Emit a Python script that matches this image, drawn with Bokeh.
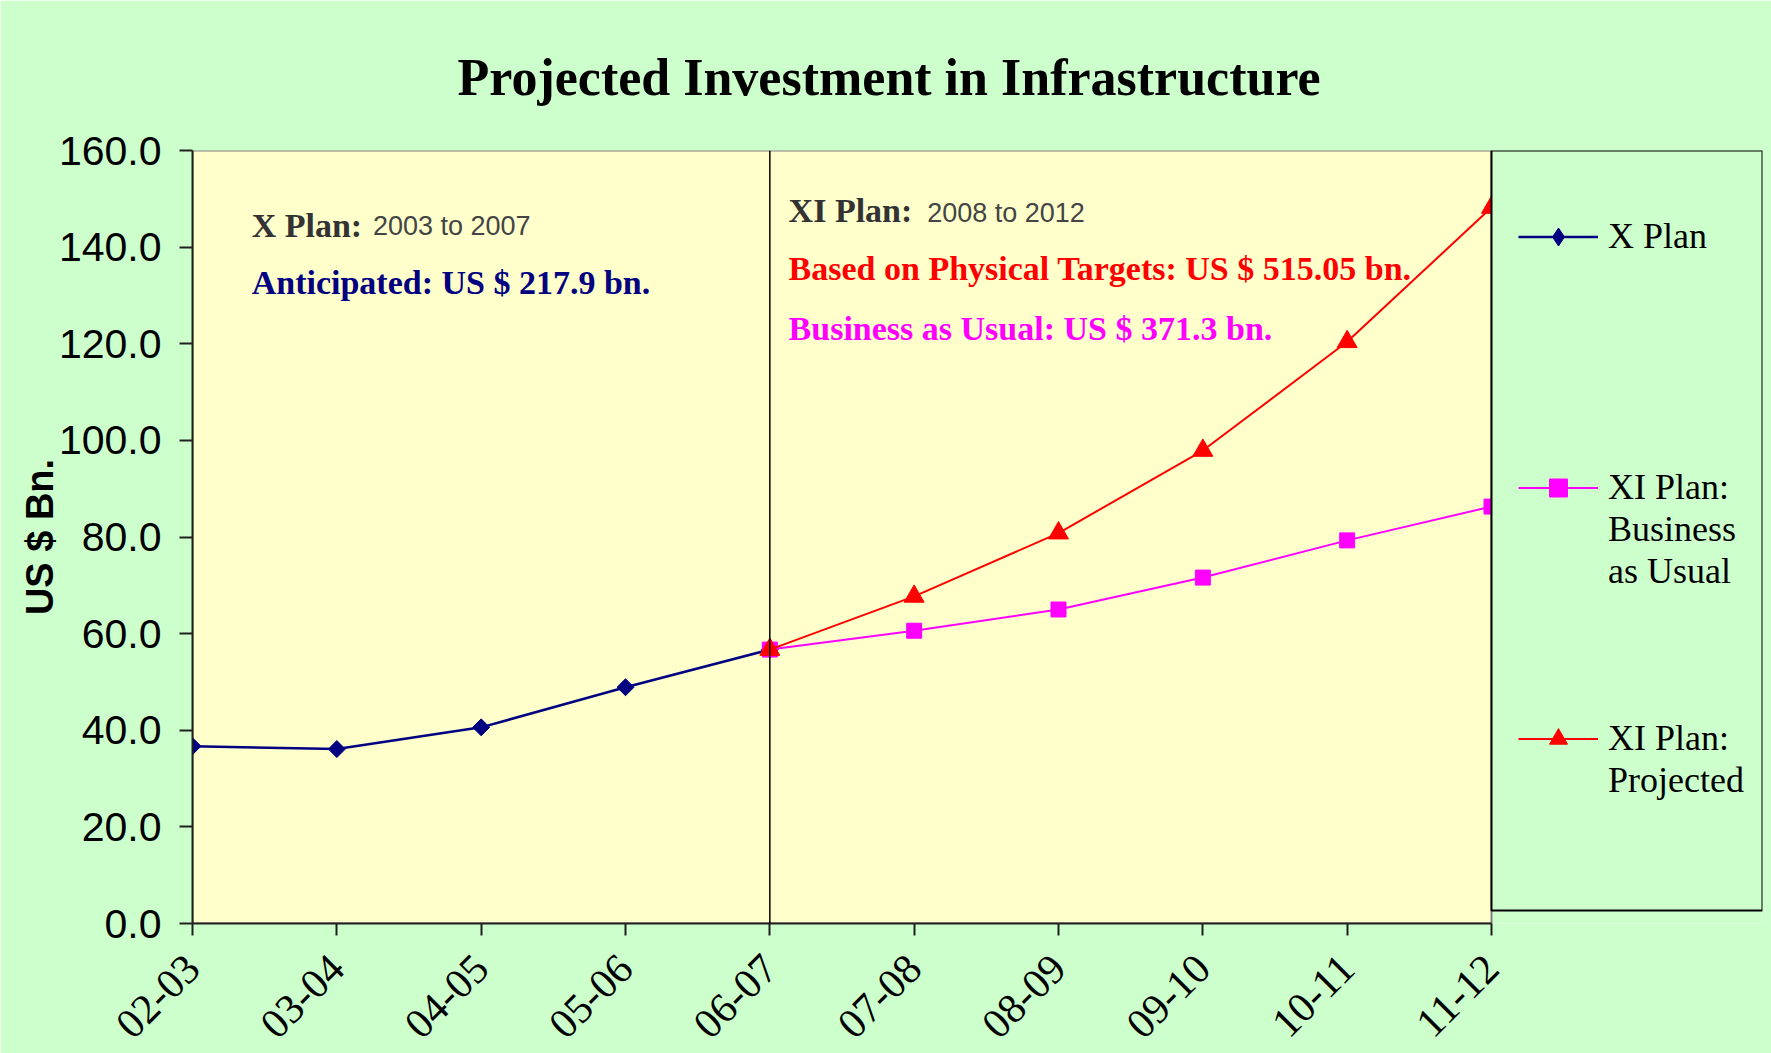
import math
from bokeh.plotting import figure
from bokeh.models import (Range1d, FixedTicker, Span, Label, Legend, LegendItem,
                          BoxAnnotation)
from bokeh.embed import file_html
from bokeh.resources import INLINE

# ---------------- data ----------------
categories = ["02-03", "03-04", "04-05", "05-06", "06-07",
              "07-08", "08-09", "09-10", "10-11", "11-12"]
x_plan_years = ["02-03", "03-04", "04-05", "05-06", "06-07"]
x_plan_values = [36.7, 36.1, 40.6, 48.9, 56.7]
xi_years = ["06-07", "07-08", "08-09", "09-10", "10-11", "11-12"]
xi_bau_values = [56.7, 60.6, 65.0, 71.6, 79.3, 86.3]
xi_projected_values = [56.7, 67.7, 80.8, 97.9, 120.4, 148.2]
y_ticks = [0, 20, 40, 60, 80, 100, 120, 140, 160]
plan_boundary = "06-07"

def pos(cats):
    return [categories.index(c) for c in cats]

SERIF = "Liberation Serif"
SANS = "Liberation Sans"
GREEN = "#CCFFCC"
YELLOW = "#FFFFCC"
navy, magenta, red = "#000080", "#FF00FF", "#FF0000"

# layout geometry (pixels)
W, H = 1771, 1053
LEFT, RIGHT, TOP, BOTTOM = 192, 9, 150, 130
PLOT_W = 1299                       # width of the plotting area
FRAME_W = W - LEFT - RIGHT          # plotting area + legend panel
n = len(categories)
x_end = (n - 1) * FRAME_W / PLOT_W  # extra room on the right holds the legend

p = figure(width=W, height=H,
           x_range=Range1d(0, x_end),
           y_range=Range1d(y_ticks[0], y_ticks[-1]),
           output_backend="svg", toolbar_location=None,
           min_border_left=LEFT, min_border_right=RIGHT,
           min_border_top=TOP, min_border_bottom=BOTTOM,
           background_fill_color=GREEN, border_fill_color=GREEN,
           outline_line_color=None)

# yellow plotting area
p.add_layout(BoxAnnotation(left=0, right=n - 1, bottom=y_ticks[0], top=y_ticks[-1],
                           fill_color=YELLOW, fill_alpha=1.0,
                           line_color="#808080", line_alpha=1.0, line_width=2,
                           level="underlay"))

# title
p.title.text = "Projected Investment in Infrastructure"
p.title.text_font = SERIF
p.title.text_font_style = "bold"
p.title.text_font_size = "52px"
p.title.text_color = "black"
p.title.align = "left"
p.title.offset = 265
p.title.standoff = 90

p.xgrid.visible = False
p.ygrid.visible = False

# x axis
xa = p.xaxis[0]
xa.bounds = (0, n - 1)
xa.ticker = FixedTicker(ticks=list(range(n)))
xa.major_label_overrides = {i: c for i, c in enumerate(categories)}
xa.major_label_orientation = math.pi / 4
xa.major_label_text_font = SERIF
xa.major_label_text_font_size = "42px"
xa.major_label_text_color = "black"
xa.major_label_standoff = 26
xa.major_tick_out = 12
xa.major_tick_in = 0
xa.minor_tick_out = 0
xa.minor_tick_in = 0
xa.axis_line_color = "#202020"
xa.axis_line_width = 2
xa.major_tick_line_color = "#202020"
xa.major_tick_line_width = 2

# y axis
ya = p.yaxis[0]
ya.ticker = FixedTicker(ticks=y_ticks)
ya.major_label_overrides = {t: f"{t:.1f}" for t in y_ticks}
ya.major_label_text_font = SANS
ya.major_label_text_font_size = "41px"
ya.major_label_text_color = "black"
ya.major_label_standoff = 18
ya.major_tick_out = 13
ya.major_tick_in = 0
ya.minor_tick_out = 0
ya.minor_tick_in = 0
ya.axis_line_color = "#202020"
ya.axis_line_width = 2
ya.major_tick_line_color = "#202020"
ya.major_tick_line_width = 2
ya.axis_label = "US $ Bn."
ya.axis_label_text_font = SANS
ya.axis_label_text_font_style = "bold"
ya.axis_label_text_font_size = "38px"
ya.axis_label_text_color = "black"
ya.axis_label_standoff = -5

# plan boundary line
p.add_layout(Span(location=categories.index(plan_boundary), dimension="height",
                  line_color="black", line_width=1.5))

# series
l1 = p.line(pos(x_plan_years), x_plan_values, line_color=navy, line_width=2.5)
p.scatter(pos(x_plan_years), x_plan_values, marker="square", angle=math.pi / 4,
          size=12, fill_color=navy, line_color=navy)
# diamond sample used for the legend key only
k1 = p.scatter(pos(x_plan_years), x_plan_values, marker="diamond", size=19,
               fill_color=navy, line_color=navy, visible=False)
l2 = p.line(pos(xi_years), xi_bau_values, line_color=magenta, line_width=2)
m2 = p.scatter(pos(xi_years), xi_bau_values, marker="square", size=15,
               fill_color=magenta, line_color=magenta)
l3 = p.line(pos(xi_years), xi_projected_values, line_color=red, line_width=2)
m3 = p.scatter(pos(xi_years), xi_projected_values, marker="triangle", size=20,
               fill_color=red, line_color=red)

# annotations
def lab(x, y, text, color, font, size, style="normal"):
    p.add_layout(Label(x=x, y=y, text=text, text_color=color, text_font=font,
                       text_font_size=size, text_font_style=style,
                       text_baseline="alphabetic", text_align="left"))

lab(0.41, 144.5, "X Plan:", "#333333", SERIF, "34px", "bold")
lab(1.25, 144.3, "2003 to 2007", "#444444", SANS, "27px")
lab(0.41, 132.7, "Anticipated: US $ 217.9 bn.", navy, SERIF, "34px", "bold")
lab(4.13, 147.6, "XI Plan:", "#333333", SERIF, "34px", "bold")
lab(5.09, 147.0, "2008 to 2012", "#444444", SANS, "27px")
lab(4.13, 135.6, "Based on Physical Targets: US $ 515.05 bn.", red, SERIF, "34px", "bold")
lab(4.13, 123.2, "Business as Usual: US $ 371.3 bn.", magenta, SERIF, "34px", "bold")

# legend box (panel right of the plotting area)
p.add_layout(BoxAnnotation(left=n - 1, right=x_end, bottom=2.7, top=y_ticks[-1],
                           fill_color=GREEN, fill_alpha=1.0,
                           line_color="black", line_alpha=1.0, line_width=2))

legend = Legend(items=[
    LegendItem(label="\nX Plan\n ", renderers=[l1, k1]),
    LegendItem(label="\n\nXI Plan:\nBusiness\nas Usual", renderers=[l2, m2]),
    LegendItem(label="\nXI Plan:\nProjected", renderers=[l3, m3]),
], location=(PLOT_W + 27, 122), margin=0, padding=0, spacing=83,
    glyph_width=80, glyph_height=45, label_standoff=10,
    label_text_font=SERIF, label_text_font_size="36px", label_text_color="black",
    border_line_alpha=0, background_fill_alpha=0)
p.add_layout(legend, "center")

open("out.html", "w").write(file_html(p, INLINE))
